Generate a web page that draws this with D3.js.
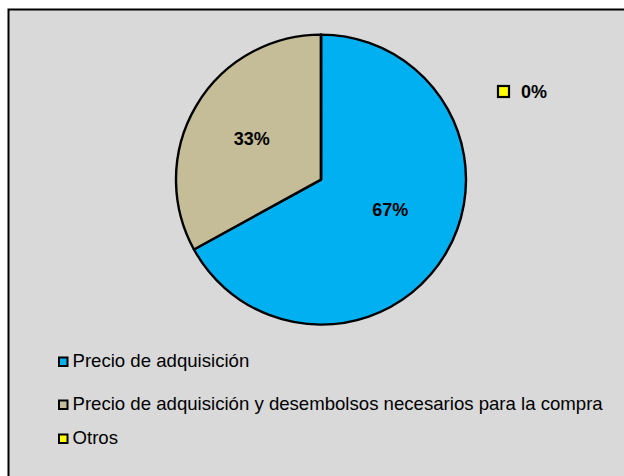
<!DOCTYPE html>
<html>
<head>
<meta charset="utf-8">
<script src="https://cdn.jsdelivr.net/npm/d3@7"></script>
<style>
  html, body { margin: 0; padding: 0; background: #ffffff; }
  svg { display: block; }
  text { font-family: "Liberation Sans", Arial, sans-serif; }
</style>
</head>
<body>
<svg id="chart" width="624" height="476"></svg>
<script>
// Criterio de valoración: reparto de respuestas
const categories = [
  "Precio de adquisición",
  "Precio de adquisición y desembolsos necesarios para la compra",
  "Otros"
];
const values = [67, 33, 0];
const colors = ["#00B0F0", "#C4BD97", "#FFFF00"];

const W = 624, H = 476;
const svg = d3.select("#chart");

// chart area: grey panel with a black frame running past the right/bottom edges
svg.append("rect")
  .attr("x", 8.5).attr("y", 9.5)
  .attr("width", W + 20).attr("height", H + 20)
  .attr("fill", "#D9D9D9")
  .attr("stroke", "#000").attr("stroke-width", 2);

const cx = 321, cy = 179.6, R = 145;
const total = d3.sum(values);

const pie = d3.pie().sort(null).value(d => d.value);
const arcs = pie(categories.map((c, i) => ({ name: c, value: values[i], color: colors[i] })));
const arc = d3.arc().innerRadius(0).outerRadius(R);
const labelArc = d3.arc().innerRadius(R * 0.555).outerRadius(R * 0.555);

const g = svg.append("g").attr("transform", `translate(${cx},${cy})`);

g.selectAll("path.slice")
  .data(arcs)
  .join("path")
  .attr("class", "slice")
  .attr("d", arc)
  .attr("fill", d => d.data.color)
  .attr("stroke", "#000")
  .attr("stroke-width", 2.4)
  .attr("stroke-linejoin", "round");

const pct = v => Math.round(v / total * 100) + "%";

// inside labels; the larger slice's label sits a little higher than its centroid
const nudge = [[0, -11], [0, 0]];
g.selectAll("text.inlabel")
  .data(arcs.filter(d => d.data.value > 0))
  .join("text")
  .attr("class", "inlabel")
  .attr("transform", (d, i) => {
    const c = labelArc.centroid(d);
    return `translate(${c[0] + nudge[i][0]},${c[1] + nudge[i][1]})`;
  })
  .attr("text-anchor", "middle")
  .attr("dy", "0.36em")
  .attr("font-size", 18)
  .attr("font-weight", "bold")
  .attr("fill", "#000")
  .text(d => pct(d.data.value));

// empty slice: label placed outside with its legend key
const zero = arcs.filter(d => d.data.value === 0);
const out = svg.selectAll("g.outlabel")
  .data(zero)
  .join("g")
  .attr("class", "outlabel")
  .attr("transform", "translate(497,85)");
out.append("rect")
  .attr("x", 1).attr("y", 1).attr("width", 11).attr("height", 11)
  .attr("fill", d => d.data.color)
  .attr("stroke", "#000").attr("stroke-width", 2.2);
out.append("text")
  .attr("x", 24).attr("y", 13)
  .attr("font-size", 18).attr("font-weight", "bold")
  .attr("fill", "#000")
  .text(d => pct(d.data.value));

// legend
const legendY = [367, 410, 444];
const legend = svg.selectAll("g.legend")
  .data(categories)
  .join("g")
  .attr("class", "legend")
  .attr("transform", (d, i) => `translate(58,${legendY[i]})`);
legend.append("rect")
  .attr("x", 1).attr("y", -9.5).attr("width", 8.5).attr("height", 8.5)
  .attr("fill", (d, i) => colors[i])
  .attr("stroke", "#000").attr("stroke-width", 2);
legend.append("text")
  .attr("x", 14.5).attr("y", 0)
  .attr("font-size", 18.6)
  .attr("fill", "#000")
  .text(d => d);
</script>
</body>
</html>
